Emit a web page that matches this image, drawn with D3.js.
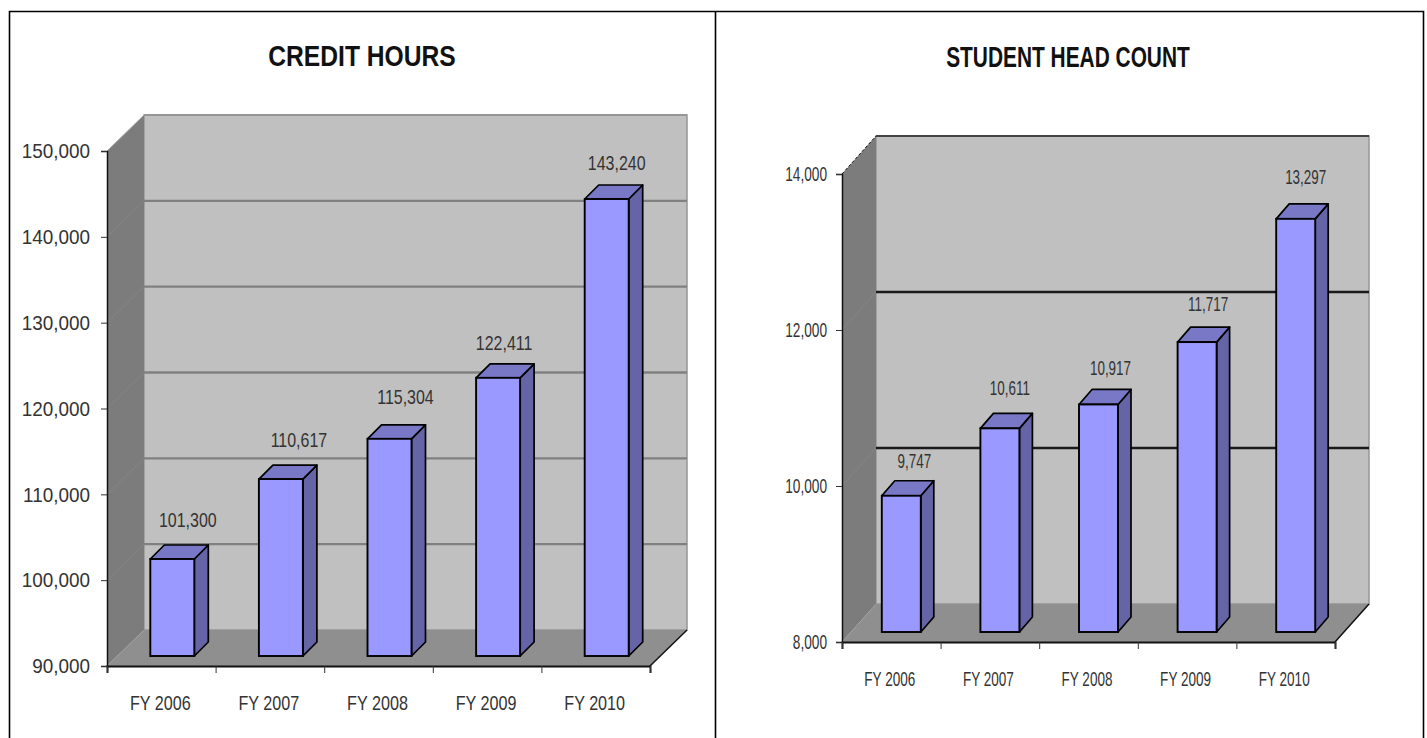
<!DOCTYPE html>
<html>
<head>
<meta charset="utf-8">
<script src="https://cdn.jsdelivr.net/npm/d3@7"></script>
<style>
  html, body { margin: 0; padding: 0; background: #fff; overflow: hidden; }
  svg { display: block; }
  text { font-family: "Liberation Sans", Arial, sans-serif; fill: #333; }
</style>
</head>
<body>
<svg id="chart" width="1427" height="738"></svg>
<script>
// values
const categories = ["FY 2006", "FY 2007", "FY 2008", "FY 2009", "FY 2010"];
const creditHours = [101300, 110617, 115304, 122411, 143240];
const headCount = [9747, 10611, 10917, 11717, 13297];
const creditTicks = [90000, 100000, 110000, 120000, 130000, 140000, 150000];
const headTicks = [8000, 10000, 12000, 14000];

const svg = d3.select("#chart");
const fmt = d3.format(",");

// squeeze text horizontally, the original was stretched when pasted
function squeeze(sel, k) {
  sel.each(function () {
    const w = this.getComputedTextLength();
    d3.select(this).attr("textLength", w * k).attr("lengthAdjust", "spacingAndGlyphs");
  });
}

function drawPanel(p) {
  const g = svg.append("g");
  const y = d3.scaleLinear().domain(p.domain).range([p.y0, p.y1]);
  const x = d3.scaleBand().domain(categories).range([p.x0, p.x1]);
  const edge = d3.scaleLinear().domain([0, categories.length]).range([p.x0, p.x1]);
  const line = d3.line();

  // back wall
  g.append("rect")
    .attr("x", p.x0 + p.dx).attr("y", p.y1 - p.dy)
    .attr("width", p.x1 - p.x0).attr("height", p.y0 - p.y1)
    .attr("fill", "#c0c0c0").attr("stroke", "#969696").attr("stroke-width", 1.5);
  g.append("line")
    .attr("x1", p.x0 + p.dx).attr("x2", p.x1 + p.dx)
    .attr("y1", p.y1 - p.dy).attr("y2", p.y1 - p.dy)
    .attr("stroke", p.topColor).attr("stroke-width", 2);

  // side wall
  g.append("path")
    .attr("d", line([[p.x0, p.y1], [p.x0 + p.dx, p.y1 - p.dy], [p.x0 + p.dx, p.y0 - p.dy], [p.x0, p.y0]]) + "Z")
    .attr("fill", "#7c7c7c");

  // grid lines, back wall and side wall
  const inner = p.ticks.slice(1, -1);
  g.selectAll(".grid").data(inner).join("line")
    .attr("x1", p.x0 + p.dx).attr("x2", p.x1 + p.dx)
    .attr("y1", d => y(d) - p.dy).attr("y2", d => y(d) - p.dy)
    .attr("stroke", p.gridColor).attr("stroke-width", 2.4);
  g.selectAll(".gridSide").data(inner).join("line")
    .attr("x1", p.x0).attr("x2", p.x0 + p.dx)
    .attr("y1", d => y(d)).attr("y2", d => y(d) - p.dy)
    .attr("stroke", "#858585").attr("stroke-width", 1);

  // floor
  g.append("path")
    .attr("d", line([[p.x0, p.y0], [p.x0 + p.dx, p.y0 - p.dy], [p.x1 + p.dx, p.y0 - p.dy], [p.x1, p.y0]]) + "Z")
    .attr("fill", "#8f8f8f");
  g.append("line")
    .attr("x1", p.x1).attr("y1", p.y0).attr("x2", p.x1 + p.dx).attr("y2", p.y0 - p.dy)
    .attr("stroke", "#111").attr("stroke-width", 1.5);

  // dashed top edge of side wall
  g.append("line")
    .attr("x1", p.x0).attr("y1", p.y1).attr("x2", p.x0 + p.dx).attr("y2", p.y1 - p.dy)
    .attr("stroke", p.edgeColor).attr("stroke-width", 1).attr("stroke-dasharray", p.edgeDash);

  // bars
  const bars = g.selectAll(".bar").data(p.values).join("g");
  const bl = (d, i) => x(categories[i]) + (x.bandwidth() - p.barW) / 2 + p.barShift;
  const barBottom = p.y0 - p.barLift;
  const barTop = d => y(d) - p.barLift;

  bars.append("path")
    .attr("d", (d, i) => {
      const r = bl(d, i) + p.barW;
      return line([[r, barTop(d)], [r + p.bdx, barTop(d) - p.bdy], [r + p.bdx, barBottom - p.bdy], [r, barBottom]]) + "Z";
    })
    .attr("fill", "#6464a6").attr("stroke", "#000").attr("stroke-width", 1.7).attr("stroke-linejoin", "round");
  bars.append("path")
    .attr("d", (d, i) => {
      const l = bl(d, i), r = l + p.barW;
      return line([[l, barTop(d)], [l + p.bdx, barTop(d) - p.bdy], [r + p.bdx, barTop(d) - p.bdy], [r, barTop(d)]]) + "Z";
    })
    .attr("fill", "#7878c6").attr("stroke", "#000").attr("stroke-width", 1.7).attr("stroke-linejoin", "round");
  bars.append("rect")
    .attr("x", bl).attr("y", barTop)
    .attr("width", p.barW).attr("height", d => barBottom - barTop(d))
    .attr("fill", "#9999ff").attr("stroke", "#000").attr("stroke-width", 1.9);

  // value labels, nudged by hand like the original
  bars.append("text")
    .attr("x", (d, i) => bl(d, i) + p.barW / 2 + p.labelDx[i])
    .attr("y", (d, i) => barTop(d) - p.bdy - p.labelGap + p.labelDy[i])
    .attr("text-anchor", "middle")
    .style("font-size", "21px")
    .text(d => fmt(d))
    .call(squeeze, p.squeezeK);

  // axes
  const yAxis = d3.axisLeft(y).tickValues(p.ticks).tickFormat(fmt).tickSize(6).tickPadding(p.tickPad);
  const ya = g.append("g").attr("transform", `translate(${p.x0},0)`).call(yAxis);
  const xAxis = d3.axisBottom(edge).tickValues(d3.range(categories.length + 1)).tickFormat("").tickSize(7);
  const xa = g.append("g").attr("transform", `translate(0,${p.y0})`).call(xAxis);
  ya.selectAll("path").attr("stroke", "#111").attr("stroke-width", 1.5);
  xa.selectAll("path").attr("stroke", "#111").attr("stroke-width", 2);
  g.selectAll(".tick line").attr("stroke", "#333");
  ya.selectAll("text").style("font-size", "21px").style("fill", "#333").attr("font-family", null)
    .call(squeeze, p.tickSqueeze);

  g.selectAll(".cat").data(categories).join("text")
    .attr("x", d => x(d) + x.bandwidth() / 2 + p.catShift)
    .attr("y", p.catY)
    .attr("text-anchor", "middle")
    .style("font-size", "21px")
    .text(d => d)
    .call(squeeze, p.catSqueeze);

  // title
  g.append("text")
    .attr("x", p.titleX).attr("y", p.titleY)
    .attr("text-anchor", "middle")
    .style("font-size", "29px").style("font-weight", "bold").style("fill", "#111")
    .text(p.title)
    .call(squeeze, p.titleSqueeze);
}

// frame round both panels, no bottom line
svg.append("path")
  .attr("d", "M9.5,738V11.5H1423.5V738M715.5,11.5V738")
  .attr("fill", "none").attr("stroke", "#000").attr("stroke-width", 1.6);

drawPanel({
  title: "CREDIT HOURS", titleX: 362, titleY: 66, titleSqueeze: 0.85,
  values: creditHours, ticks: creditTicks, domain: [90000, 150000],
  x0: 107, x1: 650, y0: 666, y1: 151, dx: 37, dy: 36,
  barW: 44, barShift: 11, barLift: 10, bdx: 14, bdy: 14,
  labelDx: [15.5, 18, 16, 6, 10], labelDy: [-1, -1, -4, 3, 2], labelGap: 17,
  squeezeK: 0.76, tickSqueeze: 0.9, tickPad: 11,
  catSqueeze: 0.77, catShift: -1, catY: 710,
  gridColor: "#808080", topColor: "#969696", edgeColor: "#aaa", edgeDash: "none"
});

drawPanel({
  title: "STUDENT HEAD COUNT", titleX: 1068, titleY: 67, titleSqueeze: 0.72,
  values: headCount, ticks: headTicks, domain: [8000, 14000],
  x0: 842, x1: 1335, y0: 642, y1: 174, dx: 34, dy: 38,
  barW: 39, barShift: 10, barLift: 10, bdx: 13, bdy: 15,
  labelDx: [13, 10, 12, 11, 10], labelDy: [3, -2, 2, 0, -4], labelGap: 16,
  squeezeK: 0.64, tickSqueeze: 0.65, tickPad: 9,
  catSqueeze: 0.645, catShift: -1.5, catY: 686,
  gridColor: "#1a1a1a", topColor: "#444", edgeColor: "#111", edgeDash: "3,2"
});
</script>
</body>
</html>
